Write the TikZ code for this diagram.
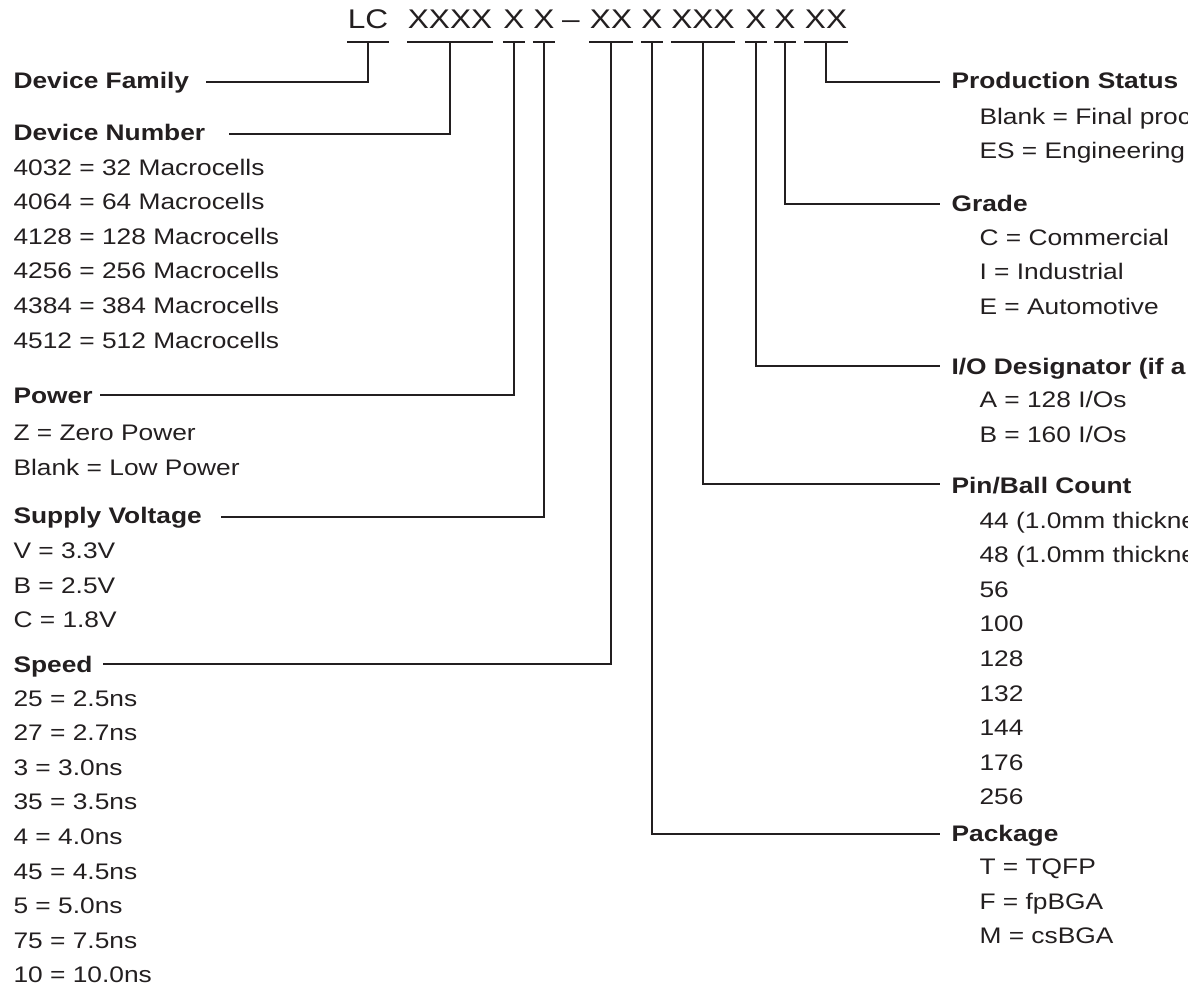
\documentclass[tikz,border=0pt]{standalone}
\usepackage{fontspec}
\setmainfont{Liberation Sans}[FakeStretch=1.17]
\definecolor{ink}{HTML}{231F20}

\begin{document}
\begin{tikzpicture}[x=1pt,y=-1pt,line width=1.1pt,color=ink,
  code/.style={anchor=base,inner sep=0pt,font=\fontsize{27}{32}\selectfont},
  head/.style={anchor=base west,inner sep=0pt,font=\fontsize{22.5}{27}\selectfont\bfseries},
  item/.style={anchor=base west,inner sep=0pt,font=\fontsize{22.5}{27}\selectfont}]
   \useasboundingbox (0,0) rectangle (1188,991);
   \clip (0,0) rectangle (1188,991);

   % part number
   \node [code] (fam) at (368,28) {LC};
   \node [code] (num) at (450,28) {XXXX};
   \node [code] (pwr) at (514,28) {X};
   \node [code] (vcc) at (544,28) {X};
   \node [code] (sep) at (571,28) {--};
   \node [code] (spd) at (611,28) {XX};
   \node [code] (pkg) at (652,28) {X};
   \node [code] (pin) at (703,28) {XXX};
   \node [code] (io)  at (756,28) {X};
   \node [code] (grd) at (785,28) {X};
   \node [code] (sts) at (826,28) {XX};
   \foreach \n in {fam,num,pwr,vcc,spd,pkg,pin,io,grd,sts}
     \draw ([yshift=-14pt]\n.base west) -- ([yshift=-14pt]\n.base east);

   % left side
   \node [head] (famH) at (13,88) {Device Family};
   \node [head] (numH) at (13,140) {Device Number};
   \foreach \t [count=\i from 0] in {4032 = 32 Macrocells,4064 = 64 Macrocells,
       4128 = 128 Macrocells,4256 = 256 Macrocells,4384 = 384 Macrocells,4512 = 512 Macrocells}
     \node [item] (num\i) at (13,{175+34.6*\i}) {\t};
   \node [head] (pwrH) at (13,403) {Power};
   \node [item] (pwr0) at (13,440) {Z = Zero Power};
   \node [item] (pwr1) at (13,475) {Blank = Low Power};
   \node [head] (vccH) at (13,523) {Supply Voltage};
   \node [item] (vcc0) at (13,558) {V = 3.3V};
   \node [item] (vcc1) at (13,593) {B = 2.5V};
   \node [item] (vcc2) at (13,627) {C = 1.8V};
   \node [head] (spdH) at (13,672) {Speed};
   \foreach \t [count=\i from 0] in {25 = 2.5ns,27 = 2.7ns,3 = 3.0ns,35 = 3.5ns,
       4 = 4.0ns,45 = 4.5ns,5 = 5.0ns,75 = 7.5ns,10 = 10.0ns}
     \node [item] (spd\i) at (13,{706+34.6*\i}) {\t};

   % right side
   \node [head] (stsH) at (951,88) {Production Status};
   \node [item] (sts0) at (979,124) {Blank = Final proc};
   \node [item] (sts1) at (979,158) {ES = Engineering};
   \node [head] (grdH) at (951,211) {Grade};
   \node [item] (grd0) at (979,245) {C = Commercial};
   \node [item] (grd1) at (979,279) {I = Industrial};
   \node [item] (grd2) at (979,314) {E = Automotive};
   \node [head] (ioH) at (951,374) {I/O Designator (if a};
   \node [item] (io0) at (979,407) {A = 128 I/Os};
   \node [item] (io1) at (979,442) {B = 160 I/Os};
   \node [head] (pinH) at (951,493) {Pin/Ball Count};
   \foreach \t [count=\i from 0] in {44 (1.0mm thickne,48 (1.0mm thickne,56,100,128,132,144,176,256}
     \node [item] (pin\i) at (979,{528+34.6*\i}) {\t};
   \node [head] (pkgH) at (951,841) {Package};
   \node [item] (pkg0) at (979,874) {T = TQFP};
   \node [item] (pkg1) at (979,909) {F = fpBGA};
   \node [item] (pkg2) at (979,943) {M = csBGA};

   % leader lines
   \draw ([yshift=-14pt]fam.base) |- ([shift={(16pt,6pt)}]famH.base east);
   \draw ([yshift=-14pt]num.base) |- ([shift={(23pt,6pt)}]numH.base east);
   \draw ([yshift=-14pt]pwr.base) |- ([shift={(7pt,8pt)}]pwrH.base east);
   \draw ([yshift=-14pt]vcc.base) |- ([shift={(19pt,6pt)}]vccH.base east);
   \draw ([yshift=-14pt]spd.base) |- ([shift={(10pt,8pt)}]spdH.base east);
   \draw ([yshift=-14pt]pkg.base) |- ([shift={(-11pt,7pt)}]pkgH.base west);
   \draw ([yshift=-14pt]pin.base) |- ([shift={(-11pt,9pt)}]pinH.base west);
   \draw ([yshift=-14pt]io.base)  |- ([shift={(-11pt,8pt)}]ioH.base west);
   \draw ([yshift=-14pt]grd.base) |- ([shift={(-11pt,7pt)}]grdH.base west);
   \draw ([yshift=-14pt]sts.base) |- ([shift={(-11pt,6pt)}]stsH.base west);
\end{tikzpicture}
\end{document}
